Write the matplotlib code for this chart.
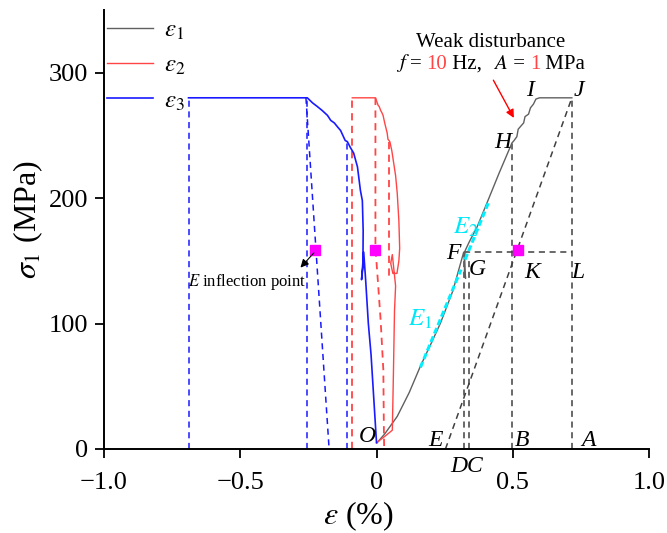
import numpy as np
import matplotlib
matplotlib.use('Agg')
import matplotlib.pyplot as plt

plt.rcParams['font.family'] = ['Liberation Serif', 'DejaVu Serif']
plt.rcParams['mathtext.fontset'] = 'stix'

# epsilon_1 (axial) curve O-F-G-H-I-J
e1_x = [0.002, 0.03, 0.076, 0.12, 0.161, 0.2, 0.234, 0.28, 0.32, 0.327, 0.322, 0.325,
        0.34, 0.369, 0.405, 0.45, 0.497, 0.505, 0.515, 0.52, 0.54, 0.545, 0.558,
        0.565, 0.576, 0.585, 0.598, 0.717]
e1_y = [5, 12, 26, 45, 66, 84, 100, 126, 157, 136, 138, 158,
        165, 177, 196, 220, 244, 246, 249, 255, 260, 265, 267,
        272, 275, 279, 280, 280]

# epsilon_2 curve
e2_x = [0.0, 0.03, 0.058, 0.062, 0.066, 0.07, 0.058, 0.052, 0.06, 0.075, 0.082, 0.085,
        0.082, 0.076, 0.07, 0.063, 0.056, 0.049, 0.042, 0.039, 0.03, 0.024, 0.02,
        0.015, 0.01, 0.006, -0.004, -0.089]
e2_y = [5, 10, 15, 60, 110, 130, 155, 148, 140, 140, 150, 160,
        182, 204, 218, 228, 238, 245, 247, 252, 260, 266, 268,
        270, 273, 274, 280, 280]

# epsilon_3 curve
e3_x = [0.0, -0.01, -0.02, -0.03, -0.04, -0.047, -0.055, -0.05, -0.049, -0.052, -0.059,
        -0.07, -0.084, -0.095, -0.107, -0.115, -0.132, -0.14, -0.155, -0.168, -0.18,
        -0.2, -0.217, -0.235, -0.254, -0.69]
e3_y = [5, 40, 75, 100, 135, 157, 135, 145, 174, 198, 206,
        225, 236, 240, 245, 246, 254, 256, 260, 262, 266,
        270, 273, 276, 280, 280]

# modulus segments E1 / E2 (one straight trend line, split at F)
E1_x = [0.161, 0.31]
E1_y = [65, 143]
E2_x = [0.325, 0.41]
E2_y = [151, 196]

# dashed guide lines (x list, y list)
blue_dash = [([-0.69, -0.69], [0, 280]),
             ([-0.254, -0.254], [0, 280]),
             ([-0.259, -0.174], [280, 0]),
             ([-0.107, -0.107], [0, 245])]
red_dash = [([-0.089, -0.089], [0, 280]),
            ([-0.004, -0.004, 0.002, 0.015, 0.025, 0.027, 0.028], [280, 160, 143, 103, 63, 15, 0]),
            ([0.047, 0.047], [245, 135])]
black_dash = [([0.32, 0.32], [0, 157]),
              ([0.338, 0.338], [0, 150]),
              ([0.32, 0.717], [157, 157]),
              ([0.497, 0.497], [0, 244]),
              ([0.717, 0.717], [0, 280]),
              ([0.253, 0.717], [0, 280])]

# inflection points
sq_x = [-0.227, -0.004, 0.521]
sq_y = [159, 159, 159]

# point labels
pt_names = ['I', 'J', 'H', 'F', 'G', 'K', 'L', 'E', 'B', 'A', 'O']
pt_x = [0.564, 0.744, 0.462, 0.282, 0.37, 0.571, 0.74, 0.216, 0.535, 0.777, -0.033]
pt_y = [286, 286, 244, 156, 143, 141, 141, 7, 7, 7, 10]

fig = plt.figure(figsize=(6.67, 5.33), dpi=100)
ax = fig.add_axes([0.156, 0.1576, 0.817, 0.8236])

grey = '#606060'
red = '#ff4545'
blue = '#1a1aff'

for xs, ys in blue_dash:
    ax.plot(xs, ys, color=blue, lw=1.1, ls=(0, (4, 3)))
for xs, ys in red_dash:
    ax.plot(xs, ys, color=red, lw=1.3, ls=(0, (4, 3)))
for xs, ys in black_dash:
    ax.plot(xs, ys, color='#404040', lw=1.1, ls=(0, (4, 3)))

ax.plot(e1_x, e1_y, color=grey, lw=1.0, label=r'$\varepsilon_1$')
ax.plot(e2_x, e2_y, color=red, lw=1.0, label=r'$\varepsilon_2$')
ax.plot(e3_x, e3_y, color=blue, lw=1.2, label=r'$\varepsilon_3$')

ax.plot(E1_x, E1_y, color='#00f0ff', lw=2.2, ls=(0, (2, 1)))
ax.plot(E2_x, E2_y, color='#00f0ff', lw=2.2, ls=(0, (2, 1)))

ax.plot(sq_x, sq_y, 's', color='#ff00ff', ms=7, ls='none')

for name, x, y in zip(pt_names, pt_x, pt_y):
    ax.text(x, y, name, fontsize=17, style='italic', ha='center', va='center')
ax.text(0.33, -14, 'DC', fontsize=17, style='italic', ha='center', va='center', clip_on=False)

ax.text(0.161, 103, r'$E_1$', fontsize=18, color='#00e8f8', ha='center', va='center')
ax.text(0.326, 177, r'$E_2$', fontsize=18, color='#00e8f8', ha='center', va='center')

# inflection note
ax.annotate('', xy=(-0.286, 143), xytext=(-0.223, 158),
            arrowprops=dict(arrowstyle='-|>', color='black', lw=0.8, mutation_scale=12))
ax.text(-0.692, 133, r'$E$ inflection point', fontsize=12, ha='left', va='center')

# disturbance note
ax.text(0.418, 324, 'Weak disturbance', fontsize=15, ha='center', va='center')
parts = [(r'$f$', 'black'), ('= ', 'black'), ('10', red), (' Hz,  ', 'black'),
         (r'$A$', 'black'), (' = ', 'black'), ('1', red), (' MPa', 'black')]
t = ax.text(0.07, 304, parts[0][0], fontsize=15, color=parts[0][1], ha='left', va='baseline')
for s, c in parts[1:]:
    t = ax.annotate(s, xy=(1, 0), xycoords=t, fontsize=15, color=c, ha='left', va='bottom')
ax.annotate('', xy=(0.509, 262), xytext=(0.424, 296),
            arrowprops=dict(arrowstyle='-|>', color='red', lw=1.0, mutation_scale=12))

ax.set_xlim(-1.0, 1.0)
ax.set_ylim(0, 350)
ax.set_xticks([-1.0, -0.5, 0, 0.5, 1.0])
ax.set_xticklabels(['\u22121.0', '\u22120.5', '0', '0.5', '1.0'])
ax.set_yticks([0, 100, 200, 300])
ax.tick_params(direction='out', length=6.5, width=1.3, labelsize=19)
ax.tick_params(axis='x', pad=10)
ax.tick_params(axis='y', pad=5)
ax.spines['top'].set_visible(False)
ax.spines['right'].set_visible(False)
ax.spines['left'].set_linewidth(1.4)
ax.spines['bottom'].set_linewidth(1.4)

ax.set_xlabel(r'$\varepsilon$ (%)', fontsize=23)
ax.set_ylabel(r'$\sigma_1$ (MPa)', fontsize=23)
ax.xaxis.set_label_coords(0.466, -0.153)
ax.xaxis.label.set_va('center')
ax.yaxis.set_label_coords(-0.139, 0.522)
ax.yaxis.label.set_va('center')

ax.legend(loc='upper left', bbox_to_anchor=(0.0, 0.985), frameon=False, fontsize=18,
          handlelength=1.85, handletextpad=0.45, labelspacing=0.5, borderaxespad=0.0,
          borderpad=0.1)

plt.savefig('out.png', dpi=100)
